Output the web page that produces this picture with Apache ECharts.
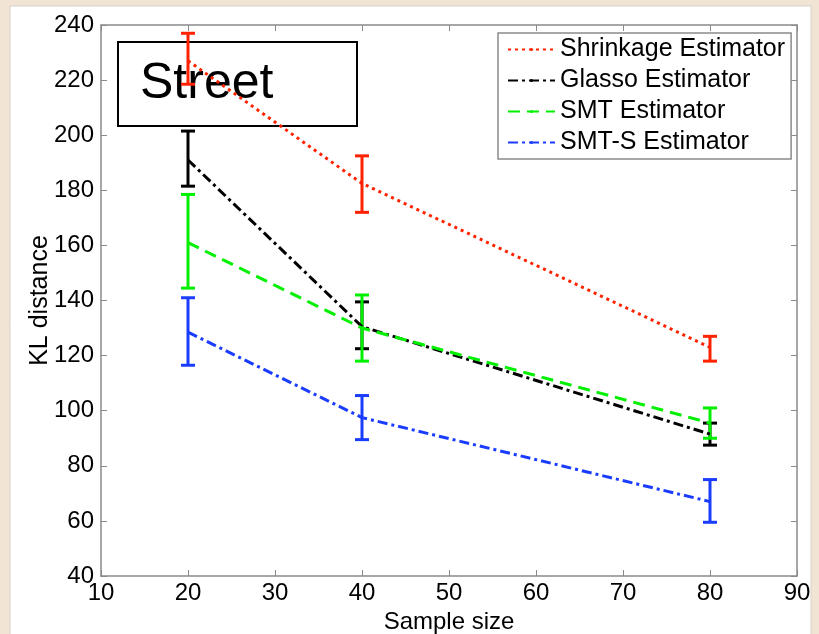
<!DOCTYPE html>
<html>
<head>
<meta charset="utf-8">
<script src="https://cdn.jsdelivr.net/npm/echarts@6/dist/echarts.min.js"></script>
<style>
  html, body { margin: 0; padding: 0; background: #f1e4d4; }
  #chart { width: 819px; height: 634px; }
</style>
</head>
<body>
<div id="chart"></div>
<script>
// sample sizes on the x axis
const sampleSizes = [20, 40, 80]

// mean KL distance per estimator
const shrinkage = [227, 182.5, 123]
const glasso = [191, 130.5, 91.5]
const smt = [161, 130, 95.5]
const smtS = [128.5, 97.5, 67]

// error bar ends [low, high]
const shrinkageErr = [[218.5, 237], [172, 192.5], [118, 127]]
const glassoErr = [[181.5, 201.5], [122.5, 139.5], [87.5, 95.5]]
const smtErr = [[144.5, 178.5], [118, 142], [90, 101]]
const smtSErr = [[116.5, 141], [89.5, 105.5], [59.5, 75]]

const xTicks = [10, 20, 30, 40, 50, 60, 70, 80, 90]
const yTicks = [40, 60, 80, 100, 120, 140, 160, 180, 200, 220, 240]

const font = 'Liberation Sans, Arial, sans-serif'
const chart = echarts.init(document.getElementById('chart'))

function pts (vals) {
  return sampleSizes.map((x, i) => [x, vals[i]])
}
function errPts (errs) {
  return sampleSizes.map((x, i) => [x, errs[i][0], errs[i][1]])
}

function errorBar (name, color, errs) {
  return {
    name: name,
    type: 'custom',
    silent: true,
    z: 3,
    renderItem: function (params, api) {
      const x = api.value(0)
      const lo = api.coord([x, api.value(1)])
      const hi = api.coord([x, api.value(2)])
      const w = 7
      const style = { stroke: color, lineWidth: 3 }
      return {
        type: 'group',
        children: [
          { type: 'line', shape: { x1: lo[0], y1: lo[1], x2: hi[0], y2: hi[1] }, style: style },
          { type: 'line', shape: { x1: lo[0] - w, y1: lo[1], x2: lo[0] + w, y2: lo[1] }, style: style },
          { type: 'line', shape: { x1: hi[0] - w, y1: hi[1], x2: hi[0] + w, y2: hi[1] }, style: style }
        ]
      }
    },
    encode: { x: 0, y: [1, 2] },
    data: errPts(errs)
  }
}

function lineSeries (name, color, vals, dash) {
  return {
    name: name,
    type: 'line',
    symbol: 'none',
    z: 4,
    lineStyle: { color: color, width: 3, type: dash },
    itemStyle: { color: color },
    data: pts(vals)
  }
}

const red = '#ff2200'
const black = '#000000'
const green = '#00f000'
const blue = '#1a3cff'

const axisBase = {
  axisLine: { show: true, lineStyle: { color: '#8a8a8a', width: 1.5 } },
  axisTick: { show: true, inside: true, length: 6, lineStyle: { color: '#8a8a8a', width: 1 } },
  splitLine: { show: false }
}

const options = {
  backgroundColor: '#f1e4d4',
  animation: false,
  graphic: [
    { type: 'rect', z: -10, shape: { x: 10, y: 6, width: 801, height: 640 }, style: { fill: '#ffffff', stroke: '#d8d0c8', lineWidth: 1 } },
    {
      type: 'group', z: 100,
      children: [
        { type: 'rect', shape: { x: 118, y: 42, width: 239, height: 84 }, style: { fill: '#ffffff', stroke: '#000000', lineWidth: 2 } },
        { type: 'text', x: 140, y: 84, style: { text: 'Street', font: '50px ' + font, fill: '#000000', textVerticalAlign: 'middle' } }
      ]
    }
  ],
  legend: {
    left: 498,
    top: 33,
    orient: 'vertical',
    itemWidth: 47,
    itemHeight: 4,
    itemGap: 6,
    padding: [4, 6, 4, 9],
    backgroundColor: '#ffffff',
    borderColor: '#8a8a8a',
    borderWidth: 1.5,
    borderRadius: 0,
    textStyle: { fontFamily: font, fontSize: 25, color: '#000' },
    data: ['Shrinkage Estimator', 'Glasso Estimator', 'SMT Estimator', 'SMT-S Estimator'],
    z: 50
  },
  grid: { left: 101, right: 22, top: 25, bottom: 58, containLabel: false, outerBoundsMode: 'none' },
  xAxis: [
    Object.assign({}, axisBase, {
      type: 'value', min: 10, max: 90, interval: 10,
      name: 'Sample size', nameLocation: 'middle', nameGap: 30,
      nameTextStyle: { fontFamily: font, fontSize: 24, color: '#000' },
      axisLabel: { fontFamily: font, fontSize: 24, color: '#000', margin: 5 }
    }),
    Object.assign({}, axisBase, {
      type: 'value', min: 10, max: 90, interval: 10, position: 'top',
      axisLabel: { show: false }
    })
  ],
  yAxis: [
    Object.assign({}, axisBase, {
      type: 'value', min: 40, max: 240, interval: 20,
      name: 'KL distance', nameLocation: 'middle', nameGap: 48, nameMoveOverlap: false,
      nameTextStyle: { fontFamily: font, fontSize: 25, color: '#000' },
      axisLabel: { fontFamily: font, fontSize: 24, color: '#000', margin: 7 }
    }),
    Object.assign({}, axisBase, {
      type: 'value', min: 40, max: 240, interval: 20, position: 'right',
      axisLabel: { show: false }
    })
  ],
  series: [
    lineSeries('Shrinkage Estimator', red, shrinkage, [3, 4]),
    lineSeries('Glasso Estimator', black, glasso, [10, 4, 3, 4]),
    lineSeries('SMT Estimator', green, smt, [12, 7]),
    lineSeries('SMT-S Estimator', blue, smtS, [10, 4, 3, 4]),
    errorBar('Shrinkage Estimator', red, shrinkageErr),
    errorBar('Glasso Estimator', black, glassoErr),
    errorBar('SMT Estimator', green, smtErr),
    errorBar('SMT-S Estimator', blue, smtSErr)
  ]
}

chart.setOption(options)
</script>
</body>
</html>
